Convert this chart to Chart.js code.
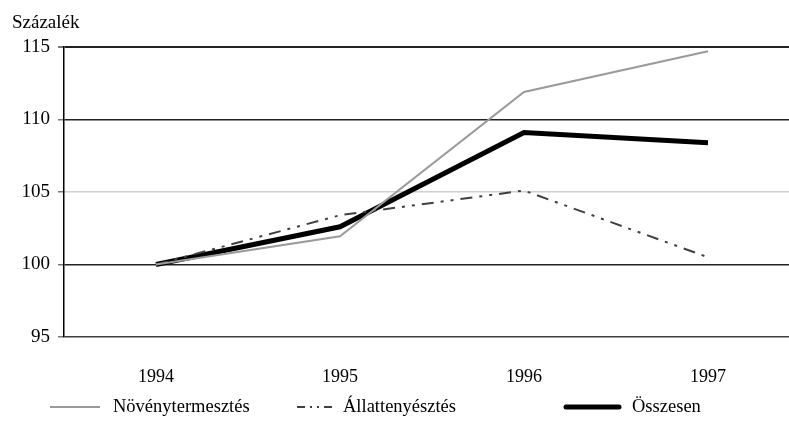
<!DOCTYPE html>
<html>
<head>
<meta charset="utf-8">
<script src="https://cdn.jsdelivr.net/npm/chart.js@4/dist/chart.umd.min.js"></script>
<style>
  html, body { margin: 0; padding: 0; background: #fff; overflow: hidden; }
  #wrap { width: 789px; height: 424px; overflow: hidden; }
</style>
</head>
<body>
<div id="wrap"><canvas id="chart" width="804" height="424"></canvas></div>
<script>
// Data
const years = ["1994", "1995", "1996", "1997"];
const novenytermesztes = [100, 101.95, 111.9, 114.7];
const allattenyesztes = [100, 103.4, 105.1, 100.5];
const osszesen = [100, 102.6, 109.1, 108.4];
const yTicks = [95, 100, 105, 110, 115];

const serif = "'Liberation Serif', 'DejaVu Serif', serif";

// y axis caption top-left
const captionPlugin = {
    id: 'caption',
    afterDraw(chart) {
        const c = chart.ctx;
        c.save();
        c.font = "19px " + serif;
        c.fillStyle = '#000';
        c.textBaseline = 'alphabetic';
        c.fillText('Százalék', 12, 28);
        c.restore();
    }
};

// legend laid out like the original (uneven spacing)
const legendSpots = [
    { x1: 50, x2: 100, tx: 113, dash: [] },
    { x1: 297, x2: 333, tx: 343, dash: [8, 5, 2, 5, 2, 5] },
    { x1: 566, x2: 619, tx: 632, dash: [] }
];
const legendPlugin = {
    id: 'ownLegend',
    afterDraw(chart) {
        const c = chart.ctx;
        const y = 407;
        c.save();
        chart.data.datasets.forEach((ds, i) => {
            const s = legendSpots[i];
            c.beginPath();
            c.strokeStyle = ds.borderColor;
            c.lineWidth = ds.borderWidth;
            c.lineCap = i === 2 ? 'round' : 'butt';
            c.setLineDash(s.dash);
            c.moveTo(s.x1, y);
            c.lineTo(s.x2, y);
            c.stroke();
            c.setLineDash([]);
            c.font = "18.5px " + serif;
            c.fillStyle = '#000';
            c.textBaseline = 'middle';
            c.fillText(ds.label, s.tx, y);
        });
        c.restore();
    }
};

const ctx = document.getElementById('chart').getContext('2d');

new Chart(ctx, {
    type: 'line',
    data: {
        labels: years,
        datasets: [
            {
                label: "Növénytermesztés",
                data: novenytermesztes,
                borderColor: "#9a9a9a",
                borderWidth: 2
            },
            {
                label: "Állattenyésztés",
                data: allattenyesztes,
                borderColor: "#404040",
                borderWidth: 2,
                borderDash: [12, 7, 3, 7, 3, 7]
            },
            {
                label: "Összesen",
                data: osszesen,
                borderColor: "#000000",
                borderWidth: 5
            }
        ]
    },
    options: {
        responsive: false,
        animation: false,
        events: [],
        elements: {
            point: { radius: 0 },
            line: { tension: 0, capBezierPoints: false }
        },
        layout: {
            padding: { top: 47, right: 4, bottom: 0, left: 0 }
        },
        plugins: {
            legend: { display: false },
            tooltip: { enabled: false }
        },
        scales: {
            x: {
                offset: true,
                afterFit(scale) {
                    scale.height = 87;
                },
                grid: { display: false, drawTicks: false },
                border: { display: false },
                ticks: {
                    color: '#000',
                    padding: 29,
                    font: { family: serif, size: 18 }
                }
            },
            y: {
                min: 95,
                max: 115,
                afterBuildTicks(scale) {
                    scale.ticks = yTicks.map(v => ({ value: v }));
                },
                afterFit(scale) {
                    scale.width = 64;
                },
                grid: {
                    color(c) {
                        if (c.tick.value === 105) return '#d0d0d0';
                        if (c.tick.value === 95) return '#404040';
                        return '#222';
                    },
                    lineWidth(c) {
                        return c.tick.value === 115 ? 2 : 1.5;
                    },
                    tickLength: 6,
                    tickColor: '#777'
                },
                border: { display: true, color: '#000', width: 1.5 },
                ticks: {
                    color: '#000',
                    padding: 8,
                    font: { family: serif, size: 19 }
                }
            }
        }
    },
    plugins: [captionPlugin, legendPlugin]
});
</script>
</body>
</html>
